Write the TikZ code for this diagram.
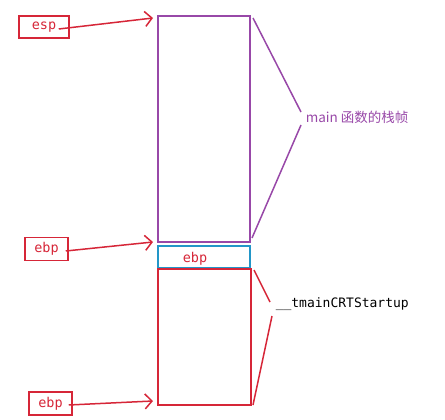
\documentclass[tikz,border=0pt]{standalone}
\usepackage{fontspec}
\setmonofont{DejaVu Sans Mono}
\newfontfamily\cjk{Noto Sans CJK SC}
\usetikzlibrary{arrows.meta,positioning}

\definecolor{penred}{RGB}{214,38,56}
\definecolor{penpurple}{RGB}{152,72,168}
\definecolor{pencyan}{RGB}{34,150,200}

\begin{document}
\begin{tikzpicture}[x=1pt, y=-1pt, >={Straight Barb[length=7pt,width=15pt]}, line width=1.5pt,
    reg/.style={draw=penred, text=penred, inner sep=0pt, minimum height=23pt, font=\ttfamily\fontsize{13.5}{13.5}\selectfont},
    frame/.style={draw, inner sep=0pt, outer sep=0pt, minimum width=92pt},
    note/.style={anchor=west, inner sep=0pt}]
    \useasboundingbox (0,0) rectangle (445,420);

    % Nodes {esp, ebp, frames}
    \node [reg, minimum width=50pt, minimum height=22pt] (esp)  at (44,27)     {esp};
    \node [reg, minimum width=43pt] (ebpa) at (46.5,249)  {ebp};
    \node [reg, minimum width=43pt] (ebpb) at (50.5,403.5) {ebp};

    \node [frame, draw=penpurple, minimum height=226pt] (mainframe) at (204,129) {};
    \node [frame, draw=pencyan, minimum height=22pt, below=4pt of mainframe] (savedebp) {};
    \node [frame, draw=penred, minimum height=136pt, minimum width=93pt,
           below=1pt of savedebp.south west, anchor=north west] (crtframe) {};

    \node [text=penred, font=\ttfamily\fontsize{13.5}{13.5}\selectfont] (ebpc) at (195,259) {ebp};
    \node [note, text=penpurple, font=\cjk\fontsize{13.5}{13.5}\selectfont] (mainlabel) at (305,117) {main 函数的栈帧};
    \node [note, font=\ttfamily\fontsize{13}{13}\selectfont] (crtlabel) at (275,304) {\_\_tmainCRTStartup};

    % Brace ends
    \coordinate (mtop) at (301,112);
    \coordinate (mbot) at (301,125);
    \coordinate (ctop) at (270,302);
    \coordinate (cbot) at (272,316);

    % Paths
    \draw [->, penred] ([xshift=-11pt,yshift=-2pt]esp.east) -- ([xshift=-5pt,yshift=-2pt]mainframe.north west);
    \draw [->, penred] ([xshift=-3pt,yshift=-2pt]ebpa.east) -- ([xshift=-5pt]mainframe.south west);
    \draw [->, penred] ([xshift=-4pt,yshift=-1.5pt]ebpb.east) -- ([xshift=-5pt,yshift=4pt]crtframe.south west);

    \draw [penpurple] ([xshift=3pt,yshift=-2pt]mainframe.north east) -- (mtop);
    \draw [penpurple] (mbot) -- ([xshift=2pt,yshift=4pt]mainframe.south east);
    \draw [penred] ([xshift=3pt,yshift=-1pt]crtframe.north east) -- (ctop);
    \draw [penred] (cbot) -- ([xshift=2pt]crtframe.south east);

\end{tikzpicture}
\end{document}
